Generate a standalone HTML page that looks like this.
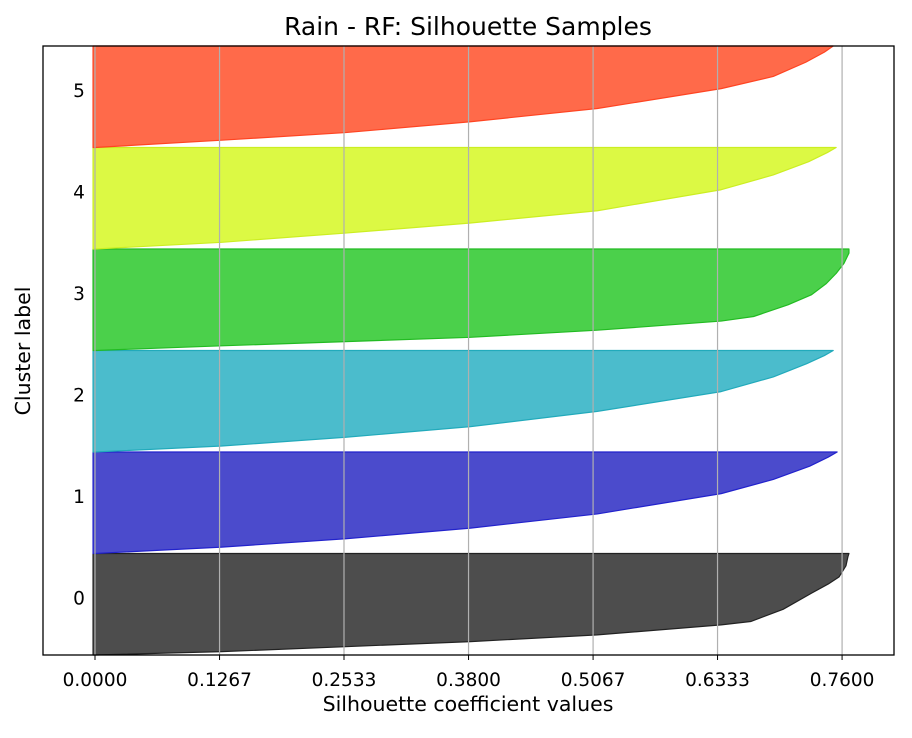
<!DOCTYPE html>
<html><head><meta charset="utf-8"><style>
body{margin:0;background:#fff;}
text{font-family:"DejaVu Sans","Liberation Sans",sans-serif;}
</style></head><body>
<svg id="chart" width="912" height="733"></svg>
<script>
const clusters=["0","1","2","3","4","5"];
const xTicks=[0,0.1267,0.2533,0.38,0.5067,0.6333,0.76];
const xTickLabels=["0.0000","0.1267","0.2533","0.3800","0.5067","0.6333","0.7600"];
const ranks0=[0,.033,.132,.198,.297,.33,.45,.61,.70,.77,.88,.97,1];
const vals0=[0,.129,.382,.511,.637,.667,.700,.729,.746,.757,.764,.766,.767];
const ranks1=[0,.063,.145,.25,.39,.59,.73,.86,.95,1];
const vals1=[0,.129,.255,.382,.511,.637,.69,.727,.746,.755];
const ranks2=[0,.059,.145,.25,.40,.595,.74,.87,.95,1];
const vals2=[0,.129,.255,.382,.511,.637,.69,.724,.742,.751];
const ranks3=[0,.046,.13,.20,.29,.335,.45,.55,.66,.76,.86,.96,1];
const vals3=[0,.129,.382,.511,.637,.670,.705,.729,.744,.754,.762,.767,.767];
const ranks4=[0,.066,.157,.256,.377,.584,.73,.86,.95,1];
const vals4=[0,.129,.255,.382,.511,.637,.69,.726,.745,.754];
const ranks5=[0,.072,.147,.254,.384,.58,.70,.84,.94,1];
const vals5=[0,.129,.255,.382,.511,.637,.69,.723,.742,.751];
const allRanks=[ranks0,ranks1,ranks2,ranks3,ranks4,ranks5];
const allVals=[vals0,vals1,vals2,vals3,vals4,vals5];
const fills=["#4d4d4d","#4b4bcc","#4bbccc","#4bd04b","#dcf944","#ff6a4a"];
const edges=["#222","#2222cc","#22aabb","#22bb22","#ccee22","#ff4422"];

const L=43,R=894,T=46,B=655;
const xs=v=>95+v*983;
const ys=v=>B-(v/6)*(B-T);
const svg=document.getElementById('chart');
const NS="http://www.w3.org/2000/svg";
function mk(tag,attrs,parent){const e=document.createElementNS(NS,tag);for(const k in attrs)e.setAttribute(k,attrs[k]);(parent||svg).appendChild(e);return e;}

clusters.forEach((c,i)=>{
  const r=allRanks[i],v=allVals[i];
  let d="M"+xs(-0.002)+","+ys(i);
  for(let j=0;j<r.length;j++)d+=" L"+xs(v[j])+","+ys(i+r[j]);
  d+=" L"+xs(-0.002)+","+ys(i+1)+" Z";
  const p=mk('path',{d:d,fill:fills[i],stroke:edges[i],'stroke-width':1.2,'stroke-linejoin':'round'});
  
  
});
xTicks.forEach((t,i)=>{
  const g=mk('line',{x1:xs(t),x2:xs(t),y1:T,y2:B,stroke:'#b0b0b0','stroke-width':1.2});
  
  
  mk('line',{x1:xs(t),x2:xs(t),y1:B,y2:B+5,stroke:'#000','stroke-width':1});
  const tx=mk('text',{x:xs(t),y:686,'text-anchor':'middle','font-size':18.5,fill:'#000'});
  tx.textContent=xTickLabels[i];
  
  
});
clusters.forEach((c,i)=>{
  const tx=mk('text',{x:79,y:ys(i+0.5),'text-anchor':'middle','font-size':18.5,fill:'#000'});
  tx.textContent=c;
  
  
});
const fr=mk('rect',{x:L,y:T,width:R-L,height:B-T,fill:'none',stroke:'#000','stroke-width':1.3});


const ti=mk('text',{x:468,y:35,'text-anchor':'middle','font-size':25});
ti.textContent="Rain - RF: Silhouette Samples";


const xl=mk('text',{x:468,y:711,'text-anchor':'middle','font-size':20.5});
xl.textContent="Silhouette coefficient values";


const yl=mk('text',{x:0,y:0,'text-anchor':'middle','font-size':20.5,transform:'translate(30,351) rotate(-90)'});
yl.textContent="Cluster label";


</script>
</body></html>
